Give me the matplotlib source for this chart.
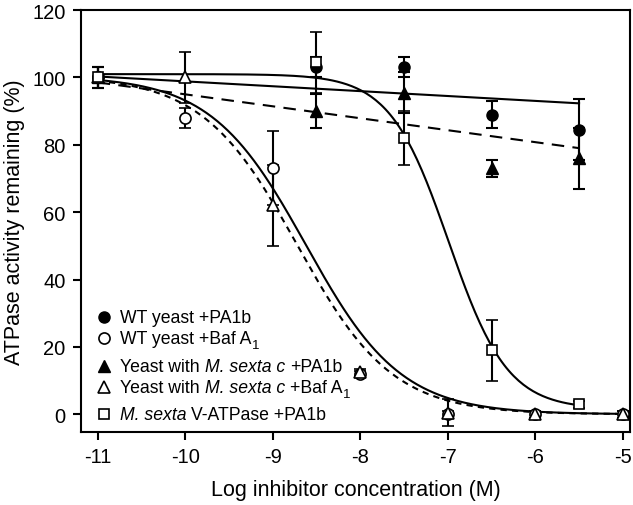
import numpy as np
import matplotlib
matplotlib.use("Agg")
import matplotlib.pyplot as plt

plt.rcParams['font.family'] = ['Liberation Sans', 'DejaVu Sans']

# ---- data ----
x_wt_pa = [-11, -8.5, -7.5, -6.5, -5.5]
y_wt_pa = [100, 103, 103, 89, 84.5]
e_wt_pa = [3, 3, 3, 4, 9]

x_wt_baf = [-11, -10, -9, -8, -7, -6, -5]
y_wt_baf = [100, 88, 73, 12, 0, 0, 0]
e_wt_baf = [3, 3, 11, 1, 1, 1, 1]

x_mc_pa = [-11, -8.5, -7.5, -6.5, -5.5]
y_mc_pa = [100, 90, 95.5, 73, 76]
e_mc_pa = [3, 5, 6, 2.5, 9]

x_mc_baf = [-11, -10, -9, -8, -7, -6, -5]
y_mc_baf = [100, 100, 62, 12.5, 0.5, 0, 0]
e_mc_baf = [3, 7.5, 12, 1, 4, 1, 1]

x_ms_pa = [-11, -8.5, -7.5, -6.5, -5.5]
y_ms_pa = [100, 104.5, 82, 19, 3]
e_ms_pa = [3, 9, 8, 9, 1]

# legend labels as (text, style) segments: 'n' normal, 'i' italic, 's' subscript
label_wt_pa = [('WT yeast +PA1b', 'n')]
label_wt_baf = [('WT yeast +Baf A', 'n'), ('1', 's')]
label_mc_pa = [('Yeast with', 'n'), ('M. sexta c', 'i'), ('+PA1b', 'n')]
label_mc_baf = [('Yeast with', 'n'), ('M. sexta c', 'i'), ('+Baf A', 'n'), ('1', 's')]
label_ms_pa = [('M. sexta', 'i'), ('V-ATPase +PA1b', 'n')]

xticks = [-11, -10, -9, -8, -7, -6, -5]
yticks = [0, 20, 40, 60, 80, 100, 120]

# fit parameters (linear: intercept, slope; logistic: top, bottom, logIC50, hill)
fit_wt_pa = (84.35, -1.45)
fit_mc_pa = (59.5, -3.55)
fit_wt_baf = (100.5, 0.0, -8.62, 0.8)
fit_mc_baf = (100.5, 0.0, -8.72, 0.8)
fit_ms_pa = (101.0, 1.5, -6.99, 1.29)


def logistic(x, top, bottom, c, h):
    return bottom + (top - bottom) / (1 + 10 ** (h * (x - c)))


fig = plt.figure(figsize=(6.33, 5.06), dpi=100)
ax = fig.add_axes([0.128, 0.144, 0.867, 0.834])

# fitted curves
xa = np.linspace(-11, -5.5, 200)
ax.plot(xa, fit_wt_pa[0] + fit_wt_pa[1] * xa, color='black', lw=1.5, zorder=2)
ax.plot(xa, fit_mc_pa[0] + fit_mc_pa[1] * xa, color='black', lw=1.5, ls=(0, (6, 4)), zorder=2)
xb = np.linspace(-11, -5, 300)
ax.plot(xb, logistic(xb, *fit_wt_baf), color='black', lw=1.5, zorder=2)
ax.plot(xb, logistic(xb, *fit_mc_baf), color='black', lw=1.5, ls=(0, (3, 2.5)), zorder=2)
ax.plot(xa, logistic(xa, *fit_ms_pa), color='black', lw=1.5, zorder=2)

ekw = dict(ecolor='black', elinewidth=1.5, capsize=4, capthick=1.5, ls='none', zorder=3)
ms = 8
sty_wt_pa = dict(marker='o', ms=ms, mfc='black', mec='black')
sty_wt_baf = dict(marker='o', ms=ms, mfc='white', mec='black', mew=1.2)
sty_mc_pa = dict(marker='^', ms=ms + 1, mfc='black', mec='black')
sty_mc_baf = dict(marker='^', ms=ms + 1, mfc='white', mec='black', mew=1.2)
sty_ms_pa = dict(marker='s', ms=ms - 1, mfc='white', mec='black', mew=1.2)

ax.errorbar(x_wt_pa, y_wt_pa, yerr=e_wt_pa, **sty_wt_pa, **ekw)
ax.errorbar(x_wt_baf, y_wt_baf, yerr=e_wt_baf, **sty_wt_baf, **ekw)
ax.errorbar(x_mc_pa, y_mc_pa, yerr=e_mc_pa, **sty_mc_pa, **ekw)
ax.errorbar(x_mc_baf, y_mc_baf, yerr=e_mc_baf, **sty_mc_baf, **ekw)
ax.errorbar(x_ms_pa, y_ms_pa, yerr=e_ms_pa, **sty_ms_pa, **ekw)

ax.set_xlim(-11.19, -4.92)
ax.set_ylim(-5.3, 120)
ax.set_xticks(xticks)
ax.set_xticklabels([str(t) for t in xticks])
ax.set_yticks(yticks)
ax.set_yticklabels([str(t) for t in yticks])
ax.tick_params(direction='out', length=6, width=1.5, labelsize=14.5, pad=5)
for s in ax.spines.values():
    s.set_linewidth(1.5)

ax.set_xlabel('Log inhibitor concentration (M)', fontsize=15.5, labelpad=9)
ax.set_ylabel('ATPase activity remaining (%)', fontsize=15.5, labelpad=5)

# ---- manual legend (mixed styles) ----
fs = 12.7
space = 0.278 * fs
rows = [(label_wt_pa, sty_wt_pa, 0.2727),
        (label_wt_baf, sty_wt_baf, 0.2230),
        (label_mc_pa, sty_mc_pa, 0.1566),
        (label_mc_baf, sty_mc_baf, 0.1060),
        (label_ms_pa, sty_ms_pa, 0.0429)]
mx, tx = 0.0419, 0.0711
for segs, sty, yy in rows:
    ax.plot([mx], [yy], transform=ax.transAxes, clip_on=False, ls='none', zorder=4, **sty)
    prev = None
    for txt, st in segs:
        style = 'italic' if st == 'i' else 'normal'
        if prev is None:
            prev = ax.text(tx, yy, txt, transform=ax.transAxes, fontsize=fs,
                           style=style, va='center', ha='left', zorder=4)
        elif st == 's':
            prev = ax.annotate(txt, xy=(1, 0), xycoords=prev, xytext=(0.5, -3.2),
                               textcoords='offset points', fontsize=fs * 0.75,
                               va='bottom', ha='left', zorder=4)
        else:
            prev = ax.annotate(txt, xy=(1, 0), xycoords=prev, xytext=(space, 0),
                               textcoords='offset points', fontsize=fs, style=style,
                               va='bottom', ha='left', zorder=4)

fig.savefig('out.png', dpi=100)
